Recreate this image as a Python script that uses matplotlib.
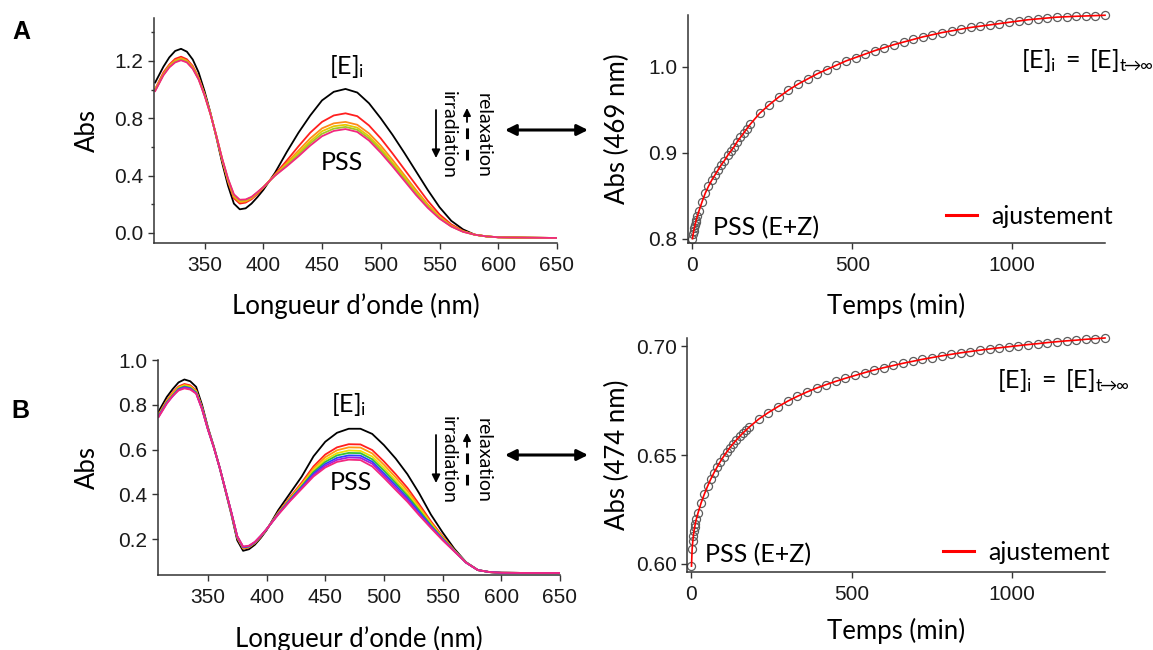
# -*- coding: utf-8 -*-
import matplotlib
matplotlib.use('Agg')
import matplotlib.pyplot as plt
from matplotlib.ticker import MultipleLocator
from matplotlib.patches import FancyArrowPatch
from matplotlib.lines import Line2D

# ---- data -------------------------------------------------------------
wavelength = [308, 315, 320, 325, 330, 335, 340, 345, 350, 355, 360, 365,
              370, 375, 380, 385, 390, 395, 400, 410, 420, 430, 440, 450,
              460, 470, 480, 490, 500, 510, 520, 530, 540, 550, 560, 570,
              580, 590, 600, 625, 650]

# panel A : spectra (tail 580-650 shared)
tail_A = [-0.012, -0.024, -0.030, -0.033, -0.035]
abs_A_Ei = [1.05, 1.16, 1.225, 1.27, 1.285, 1.265, 1.21, 1.12, 0.99, 0.84,
            0.67, 0.49, 0.33, 0.205, 0.165, 0.172, 0.205, 0.25, 0.30, 0.42,
            0.565, 0.70, 0.82, 0.925, 0.985, 1.005, 0.98, 0.905, 0.80,
            0.685, 0.56, 0.43, 0.30, 0.18, 0.085, 0.025] + tail_A
abs_A_red = [1.005, 1.12, 1.175, 1.215, 1.23, 1.212, 1.165, 1.085, 0.97,
             0.835, 0.677, 0.508, 0.358, 0.242, 0.205, 0.212, 0.235, 0.272,
             0.315, 0.41, 0.505, 0.605, 0.70, 0.775, 0.82, 0.835, 0.815,
             0.75, 0.66, 0.555, 0.445, 0.335, 0.225, 0.13, 0.06, 0.015] + tail_A
abs_A_orange = [1.0, 1.11, 1.168, 1.205, 1.22, 1.203, 1.158, 1.08, 0.967,
                0.834, 0.678, 0.512, 0.365, 0.252, 0.215, 0.22, 0.242,
                0.278, 0.318, 0.405, 0.49, 0.575, 0.66, 0.73, 0.765, 0.775,
                0.755, 0.695, 0.61, 0.51, 0.405, 0.30, 0.20, 0.115, 0.052,
                0.012] + tail_A
abs_A_yellow = [0.997, 1.106, 1.163, 1.198, 1.213, 1.197, 1.152, 1.076,
                0.965, 0.833, 0.679, 0.515, 0.37, 0.26, 0.222, 0.226, 0.246,
                0.281, 0.319, 0.402, 0.48, 0.56, 0.64, 0.71, 0.745, 0.755,
                0.735, 0.675, 0.59, 0.49, 0.39, 0.285, 0.19, 0.108, 0.048,
                0.01] + tail_A
abs_A_green = [0.994, 1.103, 1.159, 1.194, 1.209, 1.193, 1.148, 1.073, 0.963,
               0.832, 0.68, 0.517, 0.375, 0.265, 0.227, 0.23, 0.249, 0.283,
               0.32, 0.40, 0.472, 0.547, 0.625, 0.692, 0.728, 0.74, 0.72,
               0.66, 0.575, 0.478, 0.378, 0.275, 0.183, 0.104, 0.046,
               0.009] + tail_A
abs_A_pss = [0.99, 1.10, 1.155, 1.19, 1.205, 1.19, 1.145, 1.07, 0.96, 0.83,
             0.68, 0.52, 0.38, 0.27, 0.232, 0.234, 0.252, 0.285, 0.32, 0.40,
             0.465, 0.535, 0.61, 0.675, 0.712, 0.725, 0.705, 0.645, 0.56,
             0.465, 0.365, 0.265, 0.175, 0.10, 0.045, 0.008] + tail_A

# panel B : spectra (tail 580-650 shared)
tail_B = [0.062, 0.053, 0.050, 0.049, 0.049]
abs_B_Ei = [0.77, 0.835, 0.87, 0.90, 0.913, 0.905, 0.88, 0.80, 0.70, 0.615,
            0.52, 0.415, 0.31, 0.195, 0.148, 0.155, 0.175, 0.205, 0.24, 0.33,
            0.405, 0.48, 0.57, 0.635, 0.675, 0.693, 0.693, 0.67, 0.62, 0.56,
            0.49, 0.405, 0.31, 0.23, 0.157, 0.097] + tail_B
abs_B_red = [0.758, 0.82, 0.855, 0.882, 0.893, 0.887, 0.865, 0.79, 0.695,
             0.613, 0.52, 0.418, 0.315, 0.205, 0.158, 0.163, 0.182, 0.21,
             0.243, 0.32, 0.388, 0.453, 0.525, 0.578, 0.61, 0.624, 0.623,
             0.598, 0.547, 0.49, 0.429, 0.356, 0.28, 0.213, 0.151,
             0.096] + tail_B
abs_B_orange = [0.755, 0.817, 0.852, 0.878, 0.889, 0.883, 0.862, 0.788,
                0.694, 0.612, 0.52, 0.418, 0.316, 0.207, 0.16, 0.165, 0.183,
                0.211, 0.243, 0.318, 0.384, 0.447, 0.516, 0.566, 0.597, 0.61,
                0.609, 0.583, 0.532, 0.476, 0.416, 0.346, 0.274, 0.209, 0.15,
                0.096] + tail_B
abs_B_yellow = [0.752, 0.814, 0.846, 0.875, 0.885, 0.879, 0.859, 0.786,
                0.693, 0.612, 0.52, 0.419, 0.317, 0.209, 0.162, 0.166, 0.184,
                0.212, 0.244, 0.316, 0.38, 0.442, 0.507, 0.555, 0.584, 0.596,
                0.594, 0.569, 0.518, 0.462, 0.404, 0.337, 0.268, 0.206,
                0.149, 0.096] + tail_B
abs_B_green = [0.75, 0.812, 0.843, 0.872, 0.882, 0.876, 0.856, 0.784, 0.692,
               0.611, 0.52, 0.419, 0.318, 0.211, 0.163, 0.167, 0.185, 0.213,
               0.244, 0.314, 0.378, 0.437, 0.50, 0.545, 0.574, 0.585, 0.584,
               0.557, 0.506, 0.451, 0.394, 0.329, 0.263, 0.203, 0.148,
               0.096] + tail_B
abs_B_blue = [0.749, 0.809, 0.84, 0.869, 0.879, 0.873, 0.853, 0.783, 0.691,
              0.611, 0.52, 0.419, 0.319, 0.212, 0.164, 0.168, 0.186, 0.214,
              0.244, 0.313, 0.375, 0.433, 0.493, 0.536, 0.563, 0.574, 0.573,
              0.546, 0.494, 0.44, 0.384, 0.321, 0.258, 0.20, 0.147,
              0.095] + tail_B
abs_B_violet = [0.747, 0.807, 0.838, 0.867, 0.876, 0.871, 0.851, 0.781,
                0.691, 0.61, 0.52, 0.42, 0.319, 0.213, 0.166, 0.17, 0.187,
                0.214, 0.245, 0.311, 0.373, 0.429, 0.486, 0.528, 0.554, 0.565,
                0.563, 0.537, 0.484, 0.43, 0.376, 0.311, 0.254, 0.198, 0.146,
                0.095] + tail_B
abs_B_pss = [0.745, 0.805, 0.84, 0.864, 0.873, 0.868, 0.85, 0.78, 0.69,
             0.61, 0.52, 0.42, 0.32, 0.214, 0.167, 0.171, 0.188, 0.215, 0.245,
             0.31, 0.37, 0.425, 0.48, 0.52, 0.545, 0.555, 0.553, 0.525,
             0.474, 0.42, 0.367, 0.307, 0.25, 0.195, 0.145, 0.095] + tail_B

# kinetics (relaxation in the dark)
time_min = [0, 2, 4, 6, 8, 10, 12, 15, 20, 30, 40, 50, 60, 70, 80, 90, 100,
            110, 120, 130, 140, 150, 160, 170, 180, 210, 240, 270, 300, 330,
            360, 390, 420, 450, 480, 510, 540, 570, 600, 630, 660, 690, 720,
            750, 780, 810, 840, 870, 900, 930, 960, 990, 1020, 1050, 1080,
            1110, 1140, 1170, 1200, 1230, 1260, 1290]
kin_A_469 = [0.800, 0.805, 0.809, 0.813, 0.816, 0.819, 0.822, 0.826, 0.832,
             0.843, 0.853, 0.861, 0.868, 0.874, 0.880, 0.886, 0.891, 0.897,
             0.902, 0.907, 0.913, 0.918, 0.923, 0.928, 0.933, 0.946, 0.956,
             0.965, 0.973, 0.980, 0.986, 0.992, 0.997, 1.002, 1.007, 1.011,
             1.015, 1.019, 1.0225, 1.026, 1.029, 1.032, 1.035, 1.0375, 1.040,
             1.042, 1.044, 1.046, 1.0475, 1.049, 1.0505, 1.052, 1.0535,
             1.055, 1.056, 1.057, 1.058, 1.0585, 1.059, 1.0594, 1.0598,
             1.0602]
kin_B_474 = [0.599, 0.6068, 0.6103, 0.613, 0.6152, 0.617, 0.6185, 0.6205,
             0.6232, 0.628, 0.632, 0.6356, 0.6389, 0.6418, 0.6445, 0.647,
             0.6493, 0.6514, 0.6534, 0.6552, 0.6569, 0.6585, 0.66, 0.6614,
             0.6628, 0.6665, 0.6695, 0.6722, 0.6747, 0.6769, 0.6789, 0.6807,
             0.6823, 0.6838, 0.6852, 0.6865, 0.6878, 0.689, 0.6901, 0.6911,
             0.6921, 0.693, 0.6939, 0.6947, 0.6955, 0.6962, 0.6969, 0.6975,
             0.6981, 0.6987, 0.6992, 0.6997, 0.7002, 0.7007, 0.7011, 0.7016,
             0.702, 0.7024, 0.7027, 0.7031, 0.7034, 0.7037]

spectra_A = [(abs_A_Ei, '#000000'), (abs_A_red, '#ff1f1f'),
             (abs_A_orange, '#ff8a1a'), (abs_A_yellow, '#e6c800'),
             (abs_A_green, '#a2c823'), (abs_A_pss, '#f2287f')]
spectra_B = [(abs_B_Ei, '#000000'), (abs_B_red, '#ff1f1f'),
             (abs_B_orange, '#ff9a10'), (abs_B_yellow, '#f0e000'),
             (abs_B_green, '#33c233'), (abs_B_blue, '#2b45ff'),
             (abs_B_violet, '#a020e0'), (abs_B_pss, '#f2287f')]

# ---- figure -----------------------------------------------------------
W, H = 1153, 650
LABEL_SIZE = 18.5
TEXT_SIZE = 18
TICK_SIZE = 15

plt.rcParams['font.family'] = ['Lato', 'DejaVu Sans']
plt.rcParams['mathtext.fontset'] = 'custom'
plt.rcParams['mathtext.rm'] = 'Lato'
plt.rcParams['mathtext.it'] = 'Lato:italic'
plt.rcParams['mathtext.bf'] = 'Lato:bold'


def fxy(x, y):
    # pixel position (origin top-left) -> figure fraction
    return x / W, 1 - y / H


def make_axes(fig, left, top, right, bottom):
    x0, y0 = fxy(left, bottom)
    return fig.add_axes([x0, y0, (right - left) / W, (bottom - top) / H])


def style_axes(ax):
    for side in ('top', 'right'):
        ax.spines[side].set_visible(False)
    for side in ('left', 'bottom'):
        ax.spines[side].set_color('#333333')
        ax.spines[side].set_linewidth(1.1)
    ax.tick_params(which='both', direction='out', color='#333333',
                   width=1.0, labelsize=TICK_SIZE, labelcolor='#1a1a1a',
                   labelfontfamily='Liberation Sans')
    ax.tick_params(which='major', length=4.5)
    ax.tick_params(which='minor', length=2.5)
    ax.tick_params(axis='x', pad=5)
    ax.tick_params(axis='y', pad=3)


def ftext(fig, x, y, s, **kw):
    kw.setdefault('ha', 'center')
    kw.setdefault('va', 'center')
    kw.setdefault('fontsize', TEXT_SIZE)
    fig.text(*fxy(x, y), s, **kw)


def arrows(fig, y_mid):
    # irradiation / relaxation arrows plus the double arrow between panels
    fig.add_artist(FancyArrowPatch(fxy(436, y_mid - 25), fxy(436, y_mid + 23),
                                   transform=fig.transFigure,
                                   arrowstyle='-|>', mutation_scale=12,
                                   lw=1.3, color='black', shrinkA=0,
                                   shrinkB=0))
    fig.add_artist(Line2D([fxy(467, 0)[0]] * 2,
                          [fxy(0, y_mid + 25)[1], fxy(0, y_mid - 13)[1]],
                          transform=fig.transFigure, color='black', lw=2.2,
                          dashes=(3.5, 3.5)))
    fig.add_artist(FancyArrowPatch(fxy(467, y_mid - 13), fxy(467, y_mid - 27),
                                   transform=fig.transFigure,
                                   arrowstyle='-|>', mutation_scale=11,
                                   lw=1.3, color='black', shrinkA=0,
                                   shrinkB=0))
    ftext(fig, 448, y_mid, 'irradiation', rotation=-90, fontsize=14)
    ftext(fig, 483, y_mid, 'relaxation', rotation=-90, fontsize=14)
    fig.add_artist(FancyArrowPatch(fxy(505, y_mid - 5), fxy(588, y_mid - 5),
                                   transform=fig.transFigure,
                                   arrowstyle='<|-|>', mutation_scale=16,
                                   lw=2.2, color='black', shrinkA=0,
                                   shrinkB=0))


fig = plt.figure(figsize=(W / 100, H / 100), dpi=100)

# spectra A
ax = make_axes(fig, 154, 18, 557, 243)
for values, color in spectra_A:
    ax.plot(wavelength, values, color=color, lw=1.3)
ax.set_xlim(307, 650)
ax.set_ylim(-0.07, 1.50)
ax.yaxis.set_major_locator(MultipleLocator(0.4))
ax.yaxis.set_minor_locator(MultipleLocator(0.2))
ax.xaxis.set_major_locator(MultipleLocator(50))
ax.yaxis.set_major_formatter('{x:.1f}')
style_axes(ax)
ax.set_ylabel('Abs', fontsize=LABEL_SIZE)
ax.yaxis.set_label_coords(-0.134, 0.5)
ax.set_xlabel('Longueur d\u2019onde (nm)', fontsize=LABEL_SIZE)
ax.xaxis.set_label_coords(0.5, -0.222)

# kinetics A
ax = make_axes(fig, 688, 15, 1105, 243)
ax.plot(time_min, kin_A_469, 'o', mfc='none', mec='#5c5c5c', ms=5.8,
        mew=0.9, clip_on=False, zorder=2)
ax.plot(time_min, kin_A_469, color='#ff0000', lw=1.2, clip_on=False,
        zorder=3)
ax.set_xlim(-14, 1290)
ax.set_ylim(0.795, 1.0605)
ax.xaxis.set_major_locator(MultipleLocator(500))
ax.yaxis.set_major_locator(MultipleLocator(0.1))
ax.yaxis.set_major_formatter('{x:.1f}')
style_axes(ax)
ax.set_ylabel('Abs (469 nm)', fontsize=LABEL_SIZE)
ax.yaxis.set_label_coords(-0.139, 0.5)
ax.set_xlabel('Temps (min)', fontsize=LABEL_SIZE)
ax.xaxis.set_label_coords(0.5, -0.219)
ax.legend(handles=[Line2D([], [], color='#ff0000', lw=2.2)],
          labels=['ajustement'], loc='center left',
          bbox_to_anchor=fxy(946, 216), bbox_transform=fig.transFigure,
          frameon=False, borderpad=0, borderaxespad=0, handlelength=1.25,
          handletextpad=0.55, fontsize=TEXT_SIZE)

# spectra B
ax = make_axes(fig, 158, 360, 560, 575)
for values, color in spectra_B:
    ax.plot(wavelength, values, color=color, lw=1.3)
ax.set_xlim(307.5, 650)
ax.set_ylim(0.04, 1.0)
ax.xaxis.set_major_locator(MultipleLocator(50))
ax.yaxis.set_major_formatter('{x:.1f}')
style_axes(ax)
ax.set_yticks([0.2, 0.4, 0.6, 0.8, 1.0])
ax.set_ylabel('Abs', fontsize=LABEL_SIZE)
ax.yaxis.set_label_coords(-0.144, 0.5)
ax.set_xlabel('Longueur d\u2019onde (nm)', fontsize=LABEL_SIZE)
ax.xaxis.set_label_coords(0.5, -0.236)

# kinetics B
ax = make_axes(fig, 687, 338, 1105, 572)
ax.plot(time_min, kin_B_474, 'o', mfc='none', mec='#5c5c5c', ms=5.8,
        mew=0.9, clip_on=False, zorder=2)
ax.plot(time_min, kin_B_474, color='#ff0000', lw=1.2, clip_on=False,
        zorder=3)
ax.set_xlim(-14, 1290)
ax.set_ylim(0.5963, 0.7037)
ax.xaxis.set_major_locator(MultipleLocator(500))
ax.yaxis.set_major_locator(MultipleLocator(0.05))
ax.yaxis.set_major_formatter('{x:.2f}')
style_axes(ax)
ax.set_ylabel('Abs (474 nm)', fontsize=LABEL_SIZE)
ax.yaxis.set_label_coords(-0.136, 0.5)
ax.set_xlabel('Temps (min)', fontsize=LABEL_SIZE)
ax.xaxis.set_label_coords(0.5, -0.195)
ax.legend(handles=[Line2D([], [], color='#ff0000', lw=2.2)],
          labels=['ajustement'], loc='center left',
          bbox_to_anchor=fxy(943, 552), bbox_transform=fig.transFigure,
          frameon=False, borderpad=0, borderaxespad=0, handlelength=1.25,
          handletextpad=0.55, fontsize=TEXT_SIZE)

# annotations
ei = r'$\mathrm{[E]}_\mathrm{i}$'
ei_inf = (r'$\mathrm{[E]}_\mathrm{i}\;\mathrm{=}\;\mathrm{[E]}_'
          r'{\mathrm{t}\!\!\rightarrow\!\!\infty}$')

ftext(fig, 21, 32, 'A', fontsize=18, fontweight='bold',
      family='Liberation Sans')
ftext(fig, 20, 411, 'B', fontsize=18, fontweight='bold',
      family='Liberation Sans')

ftext(fig, 347, 66, ei)
ftext(fig, 342, 162, 'PSS')
ftext(fig, 1021, 60, ei_inf, ha='left')
ftext(fig, 713, 228, 'PSS (E+Z)', ha='left')
arrows(fig, 135)

ftext(fig, 349, 404, ei)
ftext(fig, 351, 482, 'PSS')
ftext(fig, 997, 380, ei_inf, ha='left')
ftext(fig, 705, 555, 'PSS (E+Z)', ha='left')
arrows(fig, 460)

fig.savefig('out.png', dpi=100)
